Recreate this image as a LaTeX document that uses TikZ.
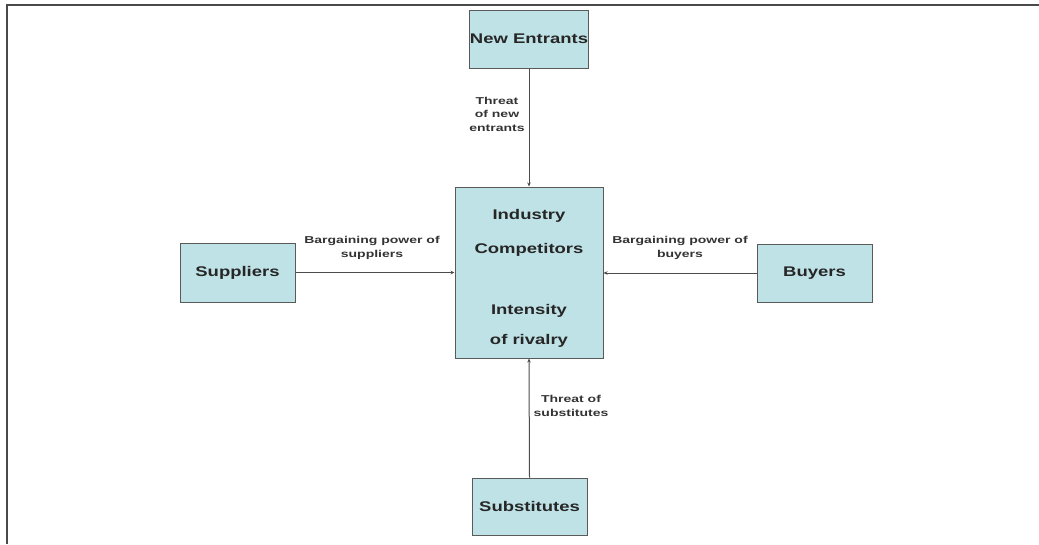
\documentclass[tikz,border=0pt]{standalone}
\usepackage{fontspec}
\setmainfont{Liberation Sans}
\newfontfamily\widefont[FakeStretch=1.32]{Liberation Sans}
\newfontfamily\widerfont[FakeStretch=1.4]{Liberation Sans}
\usetikzlibrary{arrows.meta}
\definecolor{boxfill}{HTML}{BFE2E6}
\definecolor{boxline}{HTML}{5A5A5A}
\definecolor{frame}{HTML}{4A4A4A}
\tikzset{
  big/.style={font=\widefont\bfseries\fontsize{14}{16}\selectfont, text=black!85},
  box/.style={big, draw=boxline, line width=1pt, fill=boxfill, inner sep=0pt},
  conn/.style={draw=black!70, line width=1pt, -{Stealth[length=4pt,width=3.5pt]}},
  lab/.style={font=\widerfont\bfseries\fontsize{10}{13.5}\selectfont, text=black!80, align=center, inner sep=0pt}
}
\begin{document}
\begin{tikzpicture}[x=1pt,y=-1pt]
\useasboundingbox (0,0) rectangle (1039,544);
\draw[frame, line width=2.5pt] (7,544) -- (7,5) -- (1039,5);
\node[box, minimum width=114pt, minimum height=58pt] (ne) at (529,39) {New Entrants};
\node[box, minimum width=148pt, minimum height=171pt] (ic) at (529,272.5) {};
\node[big] (t1) at (529,216) {Industry};
\node[big] (t2) at (529,250) {Competitors};
\node[big] (t3) at (529,311) {Intensity};
\node[big] (t4) at (529,341) {of rivalry};
\node[box, minimum width=115pt, minimum height=59pt] (su) at (237.5,272.5) {Suppliers};
\node[box, minimum width=115pt, minimum height=58pt] (bu) at (814.5,273) {Buyers};
\node[box, minimum width=115pt, minimum height=57pt] (sb) at (529.5,506.5) {Substitutes};
\draw[conn] (ne.south) -- (ic.north);
\draw[conn] (sb.north) -- (ic.south);
\draw[conn] (su.east) -- (ic.west |- su.east);
\draw[conn] (bu.west) -- (ic.east |- bu.west);
\node[lab] (l1) at (497,114) {Threat\\of new\\entrants};
\node[lab] (l2) at (372,248) {Bargaining power of\\suppliers};
\node[lab] (l3) at (680,248) {Bargaining power of\\buyers};
\node[lab] (l4) at (571,406) {Threat of\\substitutes};
\end{tikzpicture}
\end{document}
